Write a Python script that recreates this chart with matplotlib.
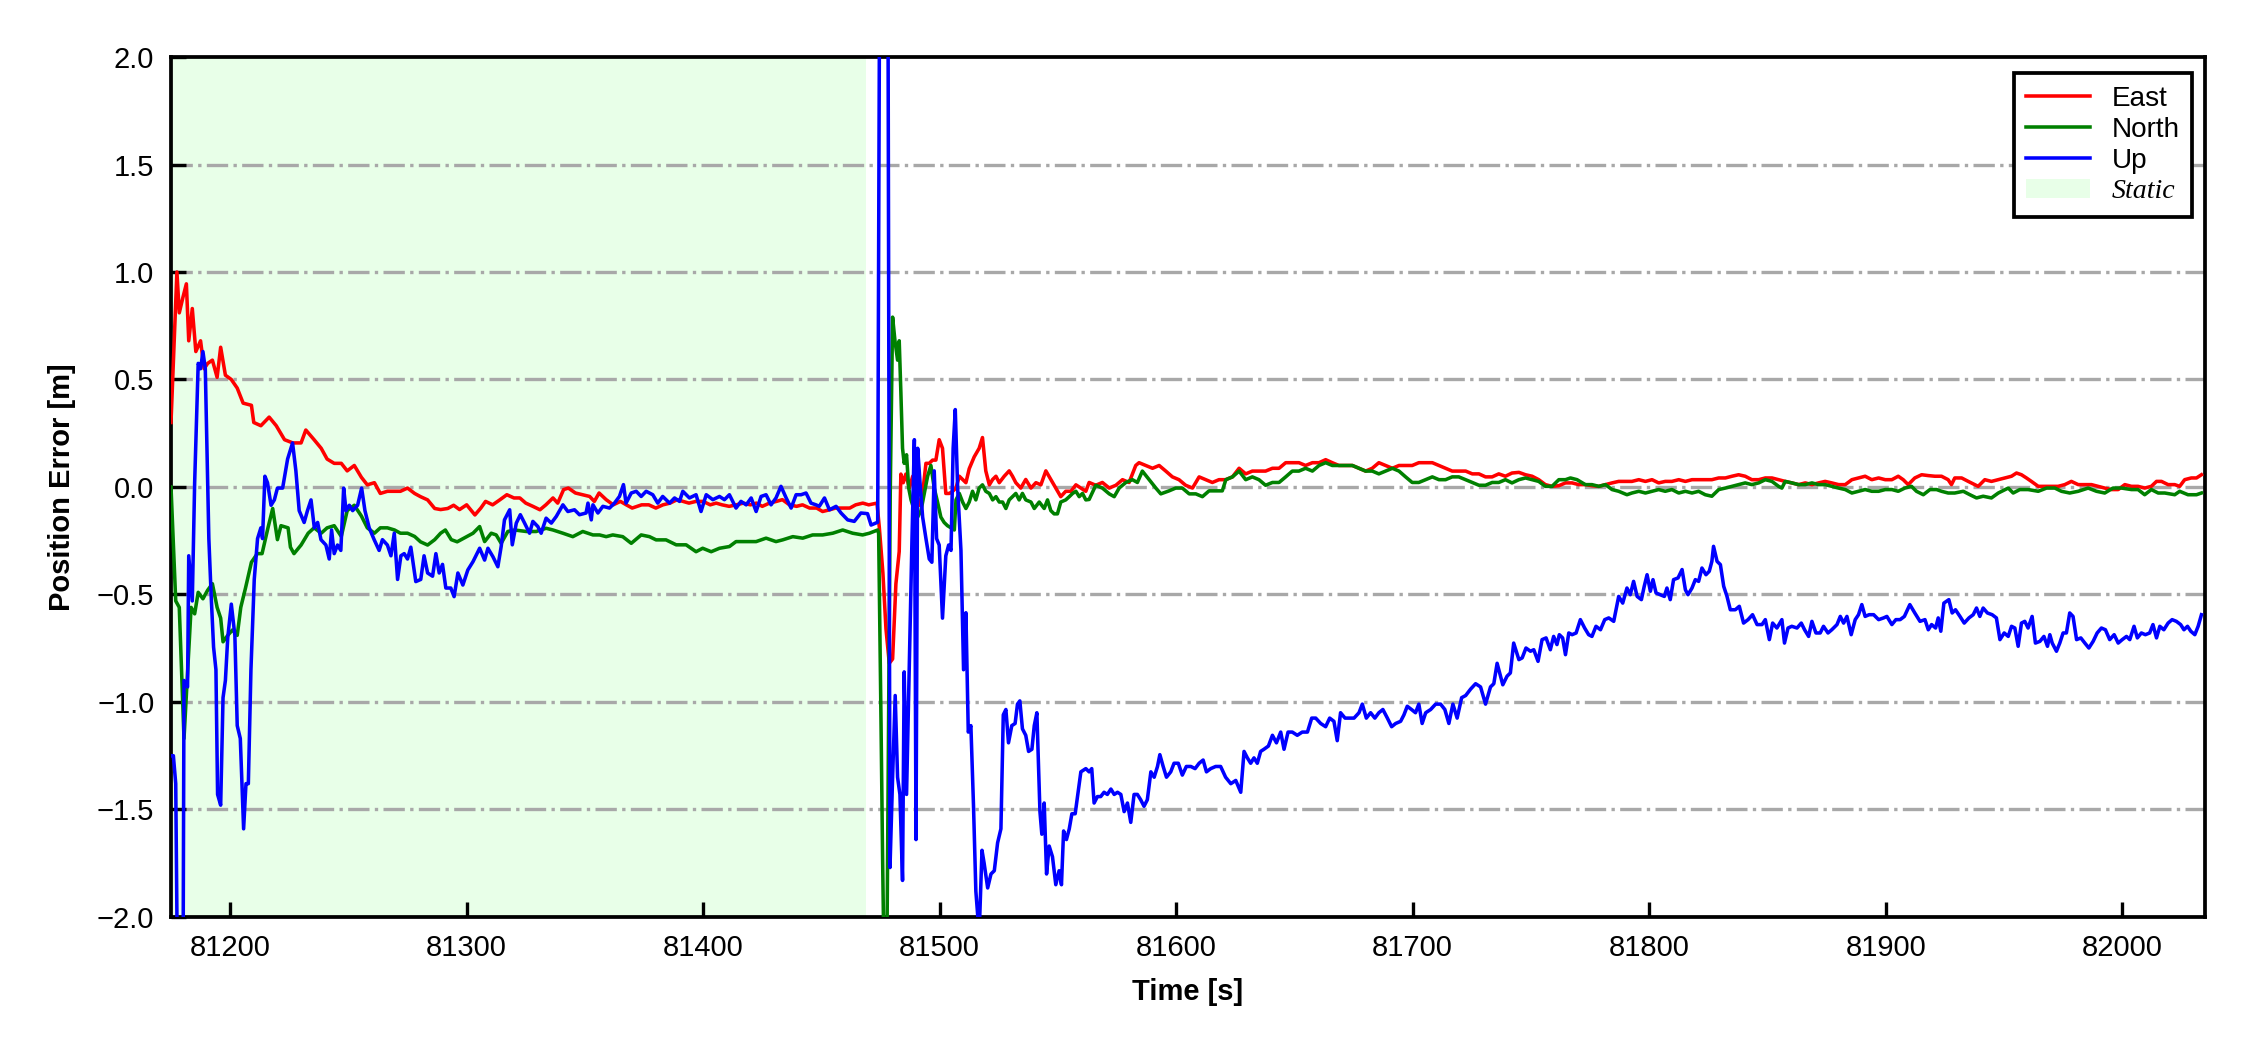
import matplotlib
matplotlib.use("Agg")
import matplotlib.pyplot as plt
from matplotlib.patches import Patch
from matplotlib.lines import Line2D

plt.rcParams['font.family'] = ['Liberation Sans', 'DejaVu Sans']

# ---------------- data ----------------
east_t = [81175, 81177.5, 81178.5, 81180, 81181.5, 81182.5, 81184, 81185.5, 81187.5, 81189, 81190.5, 81192.5,
          81194.5, 81196, 81198, 81200.5, 81203, 81205.5, 81209, 81210, 81213, 81216.5, 81219.5, 81223, 81226.5,
          81230, 81232, 81235.5, 81238.5, 81241, 81244, 81247, 81249.5, 81252.5, 81255.5, 81258, 81261, 81263.5,
          81266.5, 81269.5, 81272, 81275, 81278, 81280.5, 81283.5, 81286.5, 81289, 81292, 81294.5, 81297,
          81300, 81303.5, 81306, 81308, 81311, 81314, 81317, 81320, 81322.5, 81325, 81328, 81331, 81333.5, 81336.5,
          81338.5, 81341, 81343, 81346, 81349, 81352, 81354, 81356, 81359, 81362, 81365, 81367.5, 81370, 81374,
          81377, 81380, 81383, 81386, 81389, 81391.5, 81394, 81397, 81400, 81403, 81405.5, 81408, 81411, 81414,
          81417, 81420, 81422.5, 81425, 81428, 81431, 81433.5, 81436.5, 81439.5, 81442, 81445, 81448, 81450.5,
          81453.5, 81456, 81459, 81462, 81464.5, 81467.5, 81470, 81473.5,
          81474.5, 81476, 81477.3, 81478.7, 81480.1, 81481.5, 81482.9, 81483.6, 81484.6, 81485.7, 81487.2, 81488.6,
          81490, 81491.4, 81492.8, 81494.2, 81495.6, 81497, 81498.4, 81499.8, 81501.2, 81502.6, 81504.1, 81505.5,
          81506.9, 81508.3, 81509.7, 81511.1, 81512.5, 81514.6, 81516.7, 81518.1, 81519.5, 81521, 81522.4, 81523.8,
          81525.2, 81527.3, 81529.4, 81530.8, 81532.2, 81534.3, 81536.4, 81538.6, 81540.7, 81542.8, 81544.9, 81547,
          81549.1, 81551.2, 81553.3, 81555.5, 81557.6, 81559.7, 81561.8,
          81563.2, 81566.0, 81568.8, 81571.7, 81574.5, 81577.3, 81580.1, 81582.9, 81584.3, 81587.1, 81590.0,
          81592.8, 81595.6, 81598.4, 81601.2, 81604.0, 81606.9, 81609.7, 81612.5, 81615.3, 81618.1, 81620.9,
          81623.8, 81626.6, 81629.4, 81632.2, 81635.0, 81637.8, 81640.7, 81643.5, 81646.3, 81649.1, 81651.9,
          81654.7, 81657.6, 81660.4, 81663.2, 81666.0, 81668.8, 81671.6, 81674.5, 81677.3, 81680.1, 81682.9,
          81685.7, 81688.6, 81691.4, 81694.2, 81697.0, 81699.8, 81702.6, 81705.5, 81708.3, 81711.1, 81713.9,
          81716.7, 81719.5, 81722.4, 81725.2, 81728.0, 81730.8, 81733.6, 81736.4,
          81739.2, 81742.0, 81744.9, 81747.7, 81750.5, 81753.3, 81756.1, 81758.9, 81761.8, 81764.6, 81767.4,
          81770.2, 81773.0, 81775.8, 81778.7, 81781.5, 81784.3, 81787.1, 81789.9, 81792.7, 81795.6, 81798.4,
          81801.2, 81804.0, 81806.8, 81809.6, 81812.5, 81815.3, 81818.1, 81820.9, 81823.7, 81826.5, 81829.4,
          81832.2, 81835.0, 81837.8, 81840.6, 81843.4, 81846.3, 81849.1, 81851.9, 81854.7, 81857.5, 81860.3,
          81863.2, 81866.0, 81868.8, 81871.6, 81874.4, 81877.2, 81880.1, 81882.9, 81885.7, 81888.5, 81891.3,
          81894.1, 81897.0, 81899.8, 81902.6,
          81905.3, 81907.4, 81909.5, 81912.3, 81915.2, 81918.0, 81920.8, 81923.6, 81926.4, 81927.8, 81929.2,
          81932.1, 81934.9, 81937.7, 81939.1, 81941.9, 81944.7, 81947.6, 81950.4, 81953.2, 81955.3, 81957.4,
          81959.5, 81961.6, 81964.5, 81967.3, 81970.1, 81972.9, 81975.7, 81978.5, 81981.4, 81984.2, 81987.0,
          81989.8, 81992.6, 81995.4, 81998.3, 82001.1, 82003.9, 82006.7, 82009.5, 82012.3, 82014.5, 82016.6,
          82019.4, 82022.2, 82024.3, 82026.4, 82029.2, 82031.4, 82033.5]
east_v = [0.30, 1.00, 0.81, 0.88, 0.945, 0.68, 0.83, 0.63, 0.68, 0.55, 0.575, 0.59,
          0.51, 0.65, 0.52, 0.50, 0.46, 0.39, 0.38, 0.30, 0.285, 0.325, 0.285, 0.22, 0.205,
          0.205, 0.265, 0.22, 0.18, 0.13, 0.11, 0.11, 0.075, 0.10, 0.045, 0.01, 0.02, -0.03,
          -0.02, -0.02, -0.02, -0.005, -0.03, -0.045, -0.06, -0.10, -0.105, -0.10, -0.085, -0.105,
          -0.083, -0.13, -0.098, -0.067, -0.083, -0.06, -0.036, -0.051, -0.051, -0.075, -0.09, -0.106, -0.083, -0.051,
          -0.075, -0.012, -0.005, -0.028, -0.036, -0.044, -0.067, -0.028, -0.059, -0.083, -0.067, -0.083, -0.098, -0.083,
          -0.083, -0.098, -0.083, -0.075, -0.059, -0.067, -0.075, -0.067, -0.067, -0.083, -0.075, -0.083, -0.09, -0.083,
          -0.075, -0.083, -0.075, -0.09, -0.075, -0.067, -0.059, -0.083, -0.09, -0.083, -0.098, -0.098, -0.114,
          -0.106, -0.098, -0.098, -0.098, -0.083, -0.075, -0.083, -0.075,
          -0.19, -0.40, -0.66, -0.82, -0.80, -0.45, -0.30, 0.06, 0.02, 0.06, -0.005, 0.05,
          -0.03, -0.085, -0.03, 0.11, 0.11, 0.125, 0.125, 0.22, 0.18, -0.03, -0.03, -0.02,
          -0.005, 0.05, 0.035, 0.02, 0.085, 0.14, 0.18, 0.23, 0.075, 0.01, 0.035, 0.05,
          0.02, 0.05, 0.075, 0.05, 0.02, -0.005, 0.035, -0.005, 0.02, 0.01, 0.075, 0.035,
          -0.005, -0.045, -0.02, -0.02, 0.01, -0.005, -0.02,
          0.021, 0.008, 0.021, -0.005, 0.008, 0.034, 0.021, 0.10, 0.113, 0.10, 0.087,
          0.10, 0.074, 0.047, 0.034, 0.008, -0.005, 0.047, 0.034, 0.021, 0.034, 0.034,
          0.047, 0.087, 0.061, 0.074, 0.074, 0.074, 0.087, 0.087, 0.113, 0.113, 0.113,
          0.10, 0.113, 0.113, 0.127, 0.113, 0.10, 0.10, 0.10, 0.087, 0.074, 0.087,
          0.113, 0.10, 0.087, 0.10, 0.10, 0.10, 0.113, 0.113, 0.113, 0.10, 0.087,
          0.074, 0.074, 0.074, 0.061, 0.061, 0.047, 0.047, 0.061,
          0.05, 0.065, 0.068, 0.057, 0.05, 0.034, 0.011, 0.003, 0.006, 0.019, 0.019,
          0.011, 0.011, 0.006, 0.003, 0.011, 0.019, 0.026, 0.026, 0.026, 0.034, 0.026,
          0.034, 0.019, 0.026, 0.026, 0.034, 0.026, 0.034, 0.034, 0.034, 0.034, 0.042,
          0.042, 0.05, 0.057, 0.05, 0.034, 0.034, 0.042, 0.042, 0.034, 0.026, 0.019,
          0.011, 0.019, 0.011, 0.019, 0.026, 0.019, 0.011, 0.011, 0.034, 0.042, 0.05,
          0.034, 0.042, 0.034, 0.034,
          0.05, 0.034, 0.011, 0.042, 0.057, 0.053, 0.05, 0.05, 0.034, 0.011, 0.042,
          0.042, 0.026, 0.011, 0.003, 0.034, 0.026, 0.034, 0.042, 0.05, 0.065, 0.057,
          0.042, 0.026, 0.003, 0.003, 0.003, 0.003, 0.011, 0.026, 0.011, 0.011, 0.011,
          0.003, -0.005, -0.012, -0.012, 0.011, 0.003, 0.003, -0.005, 0.003, 0.026, 0.026,
          0.011, 0.011, 0.003, 0.034, 0.042, 0.042, 0.057]

north_t = [81175, 81177, 81178.5, 81180.5, 81183.5, 81185, 81186.5, 81188.5, 81190.5, 81192.5, 81194.5, 81196,
           81197, 81199, 81201, 81203, 81204.5, 81206.5, 81209, 81211.5, 81213.5, 81216, 81218, 81220, 81221.5,
           81224.5, 81225.5, 81227, 81230, 81233, 81235.5, 81238.5, 81241, 81244, 81247, 81249.5, 81252.5, 81255.5,
           81258, 81261, 81263.5, 81266.5, 81269.5, 81272, 81275, 81278, 81280.5, 81283.5, 81286.5, 81289, 81291,
           81293.5, 81296,
           81300, 81302.7, 81305.5, 81307.6, 81310.4, 81312.5, 81314.6, 81317.4, 81320.3, 81325.2, 81329.4, 81333.6,
           81336.5, 81340.7, 81344.9, 81349.1, 81353.4, 81356.2, 81359, 81361.8, 81366, 81369.6, 81373.8, 81377.3,
           81380.1, 81384.3, 81388.6, 81392.8, 81397, 81399.8, 81403.4, 81406.9, 81411.1, 81413.9, 81418.2, 81422.4,
           81426.6, 81430.8, 81433.6, 81437.9, 81442.1, 81446.3, 81450.5, 81454.8, 81459, 81463.2, 81467.4, 81470.3,
           81473.8,
           81474.2, 81475.2, 81475.9, 81476.6, 81477.6, 81478.4, 81479.1, 81480.1, 81481.1, 81482.2, 81482.9, 81483.6,
           81484.3, 81485, 81486, 81486.9, 81487.9, 81489.3, 81490.7, 81492.1, 81493.5, 81494.9, 81496.3, 81497.7,
           81499.1, 81500.5, 81501.9, 81503.3, 81504.8, 81506.2, 81506.9, 81508.3, 81509.7, 81511.1, 81512.5, 81513.9,
           81515.3, 81516.7, 81518.1, 81519.5, 81521, 81522.4, 81523.8, 81525.2, 81526.6, 81528, 81529.4, 81530.8,
           81532.2, 81533.6, 81535, 81536.4, 81538.6, 81540, 81542.1, 81544.2, 81545.6, 81547, 81548.4, 81549.8,
           81551.2, 81553.3, 81554.8, 81556.2, 81557.6, 81559, 81560.4, 81561.8,
           81563.2, 81566.0, 81568.8, 81571.7, 81573.8, 81575.9, 81578.7, 81581.5, 81583.6, 81585.7, 81588.6,
           81591.4, 81593.5, 81597.0, 81599.8, 81602.6, 81605.5, 81608.3, 81611.1, 81613.9, 81616.7, 81619.5,
           81621.0, 81623.8, 81626.6, 81629.4, 81632.2, 81635.0, 81637.8, 81640.7, 81643.5, 81646.3, 81649.1,
           81651.9, 81654.7, 81657.6, 81660.4, 81663.2, 81666.0, 81668.8, 81671.6, 81674.5, 81677.3, 81680.1,
           81682.9, 81685.7, 81688.6, 81691.4, 81694.2, 81697.0, 81699.8, 81702.6, 81705.5, 81708.3, 81711.1,
           81713.9, 81716.7, 81719.5, 81722.4, 81725.2, 81728.0, 81730.8, 81733.6, 81736.4,
           81739.2, 81742.0, 81744.9, 81747.7, 81750.5, 81753.3, 81756.1, 81758.9, 81761.8, 81764.6, 81766.7,
           81769.5, 81773.0, 81775.8, 81778.7, 81781.5, 81784.3, 81787.1, 81790.6, 81792.7, 81795.6, 81798.4,
           81801.2, 81804.0, 81806.8, 81809.6, 81812.5, 81815.3, 81818.1, 81820.9, 81823.7, 81826.5, 81829.4,
           81832.2, 81835.0, 81837.8, 81840.6, 81843.4, 81846.3, 81849.1, 81851.9, 81854.7, 81856.1, 81857.5,
           81860.3, 81863.2, 81866.0, 81868.8, 81871.6, 81874.4, 81877.2, 81880.1, 81882.9, 81885.7, 81888.5,
           81891.3, 81894.1, 81897.0, 81899.8, 81902.6,
           81905.3, 81908.1, 81910.9, 81913.0, 81915.9, 81918.7, 81921.5, 81923.6, 81926.4, 81929.2, 81932.8,
           81935.6, 81938.4, 81941.2, 81944.7, 81947.6, 81951.8, 81953.9, 81956.7, 81960.2, 81964.5, 81968.0,
           81971.5, 81974.3, 81977.8, 81981.4, 81985.6, 81989.1, 81992.6, 81996.1, 81999.7, 82003.9, 82006.7,
           82009.5, 82012.3, 82015.2, 82018.0, 82022.2, 82024.3, 82027.8, 82031.4, 82033.5]
north_v = [0.0, -0.53, -0.56, -1.17, -0.56, -0.59, -0.49, -0.52, -0.48, -0.45, -0.56, -0.61,
           -0.72, -0.69, -0.665, -0.69, -0.56, -0.47, -0.35, -0.31, -0.31, -0.19, -0.10, -0.245, -0.18,
           -0.19, -0.28, -0.31, -0.27, -0.215, -0.19, -0.215, -0.19, -0.18, -0.23, -0.11, -0.085, -0.135,
           -0.19, -0.215, -0.19, -0.19, -0.20, -0.215, -0.215, -0.23, -0.255, -0.27, -0.245, -0.215, -0.20,
           -0.245, -0.255,
           -0.231, -0.215, -0.184, -0.254, -0.215, -0.223, -0.262, -0.207, -0.2, -0.207, -0.207, -0.192,
           -0.2, -0.215, -0.231, -0.207, -0.223, -0.223, -0.231, -0.223, -0.231, -0.262, -0.223, -0.231,
           -0.246, -0.246, -0.269, -0.269, -0.301, -0.285, -0.301, -0.285, -0.277, -0.254, -0.254, -0.254,
           -0.238, -0.254, -0.246, -0.231, -0.238, -0.223, -0.223, -0.215, -0.2, -0.215, -0.223, -0.215,
           -0.20,
           -0.216, -1.09, -1.75, -2.3, -2.3, -1.09, -0.03, 0.79, 0.68, 0.59, 0.68, 0.44,
           0.18, 0.11, 0.15, -0.005, -0.06, -0.11, -0.14, -0.11, -0.03, 0.05, 0.10, -0.005,
           -0.07, -0.14, -0.165, -0.18, -0.19, -0.20, -0.06, -0.03, -0.07, -0.10, -0.07, -0.02,
           -0.06, -0.005, 0.01, -0.02, -0.03, -0.06, -0.045, -0.07, -0.07, -0.10, -0.06, -0.045,
           -0.03, -0.06, -0.03, -0.06, -0.07, -0.10, -0.07, -0.10, -0.06, -0.11, -0.125, -0.125,
           -0.07, -0.06, -0.045, -0.03, -0.02, -0.045, -0.03, -0.06,
           -0.058, 0.008, -0.005, -0.032, -0.045, -0.005, 0.021, 0.034, 0.021, 0.074, 0.034,
           -0.005, -0.032, -0.018, -0.005, -0.005, -0.032, -0.032, -0.045, -0.018, -0.018, -0.018,
           0.034, 0.047, 0.074, 0.034, 0.047, 0.034, 0.008, 0.021, 0.021, 0.047, 0.074,
           0.074, 0.087, 0.074, 0.10, 0.113, 0.10, 0.10, 0.10, 0.10, 0.087, 0.074,
           0.074, 0.061, 0.074, 0.087, 0.074, 0.047, 0.021, 0.021, 0.034, 0.047, 0.034,
           0.034, 0.047, 0.047, 0.034, 0.021, 0.008, 0.008, 0.021, 0.021,
           0.034, 0.019, 0.034, 0.042, 0.034, 0.026, 0.003, 0.003, 0.034, 0.034, 0.042,
           0.034, 0.011, 0.011, 0.003, 0.011, -0.012, -0.02, -0.036, -0.028, -0.02, -0.028,
           -0.02, -0.012, -0.02, -0.012, -0.028, -0.02, -0.028, -0.02, -0.036, -0.043, -0.012,
           -0.005, 0.003, 0.011, 0.019, 0.011, 0.019, 0.034, 0.026, 0.003, -0.005, 0.026,
           0.019, 0.011, 0.011, 0.019, 0.011, 0.011, 0.003, -0.005, -0.012, -0.028, -0.02,
           -0.012, -0.02, -0.02, -0.012, -0.012,
           -0.02, -0.005, 0.003, -0.02, -0.036, -0.012, -0.012, -0.02, -0.028, -0.028, -0.02,
           -0.036, -0.051, -0.043, -0.051, -0.028, -0.005, -0.028, -0.012, -0.012, -0.02, -0.005,
           -0.005, -0.02, -0.028, -0.02, -0.005, -0.02, -0.028, -0.005, -0.005, -0.012, -0.012,
           -0.036, -0.012, -0.028, -0.028, -0.036, -0.02, -0.036, -0.036, -0.028]

up_t = [81175, 81176, 81177, 81178, 81180, 81180.5, 81182, 81182.5, 81184, 81185, 81186.5, 81187.5, 81188.5,
        81189.5, 81191, 81192, 81193, 81194, 81194.7, 81196, 81197, 81198, 81199, 81200.5, 81202, 81203,
        81204.3, 81205.7, 81206.7, 81207.7, 81208.8, 81210.2, 81211.6, 81213, 81213.7, 81214.7, 81215.8,
        81217.3, 81218.7, 81220, 81222.2, 81224.3, 81226.4, 81227.8, 81229.2, 81231.3, 81232.7, 81234.2,
        81235.6, 81237, 81238.4, 81240.5, 81241.9, 81242.9, 81244, 81245.4, 81246.8, 81248, 81249, 81250.4,
        81251.8, 81253.9, 81255.6, 81257, 81258.8, 81260.9, 81263, 81264.4, 81266.5, 81268, 81269.4, 81270.8,
        81272.2, 81273.6, 81275, 81276.4, 81278.5, 81280.6, 81282, 81283.5, 81285.6, 81287, 81288.4, 81289.8,
        81291.2, 81293.3, 81294.7,
        81296.3, 81298.4, 81300.5, 81302.7, 81305.5, 81307.6, 81309, 81311.1, 81313.2, 81314.6, 81316, 81318.2,
        81319.3, 81321, 81322.7, 81324.5, 81326.6, 81328, 81330.1, 81331.5, 81333.6, 81335.8, 81337.9, 81340.7,
        81342.8, 81345.6, 81347.7, 81350.5, 81351.3, 81352.7, 81353.4, 81355.5, 81357.6, 81360.4, 81362.5,
        81364.6, 81366.3, 81367.4, 81369.6, 81371.7, 81373.8, 81375.9, 81378.7, 81380.8, 81382.9, 81385.8,
        81387.9, 81390, 81391.4, 81394.2, 81397, 81399.1, 81401.3, 81404.1, 81406.9, 81409, 81411.1, 81413.9,
        81416, 81418.2, 81420.3, 81422.4, 81424.5, 81426.6, 81428.7, 81430.8, 81432.9, 81435.1, 81437.2,
        81439.3, 81441.4, 81443.5, 81445.6, 81447.7, 81449.1, 81451.3, 81453.4, 81456.2, 81458.3, 81461.1,
        81463.9, 81466.7, 81469.5, 81471, 81473.8,
        81474.8, 81475.6, 81477, 81478, 81479, 81480.1, 81481.2, 81482.2, 81483.2, 81484.3, 81485, 81486,
        81487.2, 81488.3, 81489.3, 81490, 81490.7, 81491.7, 81492.8, 81494.2, 81495.6, 81496.7, 81497.7,
        81498.7, 81499.8, 81501.2, 81502.6, 81503.8, 81504.8, 81505.7, 81506.6, 81507.6, 81509, 81510.1,
        81511.1, 81512.1, 81513.2, 81514.3, 81515.3, 81516.7, 81517.9, 81518.8, 81520.3, 81521.7, 81523.1,
        81524.5, 81525.9, 81526.9, 81528, 81529.1, 81530.5, 81531.9, 81532.9, 81533.9, 81535, 81536.4,
        81537.6, 81539, 81540, 81541.1, 81542.4, 81543.2, 81544.2, 81545.2, 81546.3, 81547.7, 81549.1,
        81550.5, 81551.5, 81552.4, 81553.6, 81554.8, 81555.9, 81557.3, 81558.7, 81559.7, 81561.8,
        81563.2, 81564.3, 81565.3, 81566.7, 81568.1, 81569.5, 81570.9, 81572.4, 81573.8, 81575.2, 81576.6,
        81578, 81579.4, 81580.8, 81582.2, 81583.6, 81585, 81586.4, 81587.8, 81589.3, 81590.7, 81592.1,
        81593.1, 81594.5, 81595.9, 81597.7, 81599.1, 81600.9, 81602.6, 81604.3, 81606.2, 81608, 81609.7,
        81611.4, 81612.8, 81614.6, 81616.7, 81618.8, 81620.9, 81623.1, 81625.2, 81627.3, 81628.7, 81630.1,
        81631.5, 81632.9, 81634.3, 81635.7, 81637.1, 81639, 81640.7, 81642.4, 81644.2, 81645.6, 81647.3,
        81649.1, 81651.2, 81653.3, 81655.5, 81657.3, 81659, 81661.1, 81663.2, 81664.9, 81666.7, 81668.1,
        81669.5, 81671.4, 81673.1, 81675.2, 81677.3, 81678.7, 81680.4, 81682.2, 81684, 81685.7, 81687.4,
        81689.3, 81691.1, 81692.8, 81694.9, 81696.3, 81697.7, 81699.5, 81701.2, 81702.6, 81704, 81705.5,
        81707.6, 81709.7, 81711.8, 81713.6, 81715.3, 81717, 81718.8, 81720.7, 81722.4, 81724.5, 81726.6,
        81728.7, 81730.8, 81732.9, 81734.3, 81735.7, 81738.1,
        81739.9, 81741.3, 81742.7, 81744.9, 81746.3, 81747.9, 81749.8, 81751.2, 81753, 81754.7, 81756.4,
        81758.2, 81759.6, 81761, 81762, 81763.4, 81764.6, 81766, 81767.4, 81769.1, 81770.9, 81772.7,
        81774.4, 81775.8, 81777.5, 81779.4, 81781.2, 81782.9, 81785, 81787.1, 81788.8, 81790.6, 81792,
        81793.4, 81794.9, 81796.7, 81797.9, 81799.1, 81800.5, 81801.6, 81802.9, 81804.7, 81806.4, 81807.5,
        81808.9, 81810.3, 81812.2, 81813.9, 81815.3, 81816.4, 81818.1, 81819.5, 81820.9, 81822.3, 81824,
        81825.4, 81826.5, 81827.2, 81828.7, 81830.1, 81831.5, 81832.9, 81834.3, 81836.4, 81838.1, 81839.9,
        81841.8, 81843.7, 81845.6, 81847.7, 81849.1, 81850.8, 81852.2, 81854, 81856.1, 81857.2, 81858.7,
        81860.3, 81862.5, 81864.3, 81865.7, 81867.4, 81868.8, 81870.5, 81872.3, 81873.7, 81875.6, 81877.2,
        81879.4, 81880.8, 81882.2, 81883.6, 81885.4, 81887.1, 81888.5, 81889.9, 81891.3, 81893, 81894.9,
        81897, 81899.1, 81900.5, 81902.6, 81904.3, 81906.1, 81907.9,
        81910.2, 81912.3, 81914.5, 81916.6, 81918, 81919.4, 81921.1, 81922.2, 81923.3, 81924.6, 81926.7,
        81928.1, 81929.5, 81931.4, 81933.2, 81935.2, 81937, 81938.4, 81939.8, 81941.2, 81943, 81945,
        81946.8, 81948.3, 81950.1, 81951.8, 81953.2, 81954.6, 81956, 81957.4, 81958.8, 81960.2, 81961.9,
        81963.3, 81965.2, 81966.9, 81968.4, 81969.4, 81970.4, 81972.2, 81973.6, 81975, 81976.4, 81977.8,
        81979.2, 81980.7, 81982.5, 81984.2, 81985.9, 81987.7, 81989.4, 81991.2, 81992.9, 81994.7, 81996.6,
        81998.3, 82000, 82001.8, 82003.2, 82005, 82006.4, 82008.1, 82009.8, 82011.6, 82013, 82014.5,
        82015.9, 82017.6, 82019.4, 82021.1, 82022.9, 82024.7, 82026.1, 82027.6, 82029, 82030.7, 82032.1,
        82033.5]
up_v = [-1.25, -1.25, -1.38, -2.6, -2.6, -0.90, -0.93, -0.32, -0.53, 0.02, 0.575, 0.55, 0.63,
        0.55, -0.24, -0.51, -0.745, -0.85, -1.43, -1.48, -0.98, -0.90, -0.70, -0.545, -0.69, -1.11,
        -1.17, -1.59, -1.38, -1.38, -0.85, -0.43, -0.24, -0.19, -0.24, 0.05, 0.02,
        -0.085, -0.06, -0.005, -0.005, 0.13, 0.205, 0.075, -0.11, -0.165, -0.11, -0.06,
        -0.19, -0.165, -0.245, -0.27, -0.335, -0.20, -0.31, -0.27, -0.295, -0.005, -0.11, -0.085,
        -0.11, -0.085, -0.005, -0.11, -0.19, -0.245, -0.295, -0.245, -0.27, -0.32, -0.215, -0.43,
        -0.32, -0.31, -0.335, -0.28, -0.44, -0.43, -0.32, -0.40, -0.415, -0.31, -0.40, -0.36,
        -0.47, -0.47, -0.51,
        -0.40, -0.456, -0.386, -0.347, -0.285, -0.34, -0.285, -0.324, -0.371, -0.277, -0.153, -0.106,
        -0.269, -0.168, -0.129, -0.168, -0.215, -0.16, -0.184, -0.215, -0.145, -0.168, -0.137, -0.083,
        -0.114, -0.106, -0.129, -0.121, -0.075, -0.153, -0.083, -0.121, -0.09, -0.098, -0.075,
        -0.044, 0.011, -0.075, -0.028, -0.02, -0.044, -0.02, -0.036, -0.075, -0.044, -0.075,
        -0.051, -0.067, -0.02, -0.051, -0.036, -0.114, -0.036, -0.059, -0.044, -0.059, -0.036, -0.098,
        -0.067, -0.083, -0.051, -0.114, -0.044, -0.036, -0.083, -0.051, 0.003, -0.051, -0.098,
        -0.036, -0.036, -0.028, -0.075, -0.083, -0.09, -0.051, -0.106, -0.09, -0.121, -0.153,
        -0.16, -0.121, -0.124, -0.177, -0.164,
        3.0, 3.5, 3.5, 3.0, -1.77, -1.35, -0.97, -1.35, -1.43, -1.83, -0.86, -1.43,
        -0.82, -0.24, 0.22, -1.64, 0.18, 0.02, -0.14, -0.24, -0.335, -0.35, 0.075,
        -0.24, -0.27, -0.61, -0.32, -0.27, -0.295, 0.18, 0.36, -0.005, -0.295, -0.85,
        -0.585, -1.14, -1.11, -1.48, -1.88, -2.08, -1.69, -1.75, -1.865, -1.80, -1.785,
        -1.655, -1.59, -1.06, -1.035, -1.19, -1.11, -1.10, -1.01, -0.995, -1.125, -1.155,
        -1.23, -1.22, -1.11, -1.05, -1.51, -1.615, -1.47, -1.80, -1.67, -1.72, -1.85,
        -1.785, -1.85, -1.60, -1.64, -1.59, -1.52, -1.52, -1.405, -1.325, -1.31,
        -1.325, -1.31, -1.47, -1.44, -1.44, -1.42, -1.43, -1.405, -1.43, -1.42, -1.43,
        -1.51, -1.47, -1.56, -1.43, -1.43, -1.455, -1.485, -1.455, -1.325, -1.35, -1.30,
        -1.245, -1.30, -1.35, -1.325, -1.285, -1.285, -1.34, -1.30, -1.30, -1.31, -1.285,
        -1.27, -1.325, -1.31, -1.30, -1.30, -1.35, -1.38, -1.365, -1.42, -1.23, -1.26,
        -1.285, -1.26, -1.285, -1.23, -1.22, -1.205, -1.155, -1.19, -1.14, -1.22, -1.14,
        -1.14, -1.155, -1.14, -1.14, -1.075, -1.075, -1.10, -1.115, -1.075, -1.09, -1.18,
        -1.05, -1.075, -1.075, -1.075, -1.05, -1.01, -1.075, -1.05, -1.075, -1.05, -1.035,
        -1.075, -1.115, -1.10, -1.09, -1.06, -1.02, -1.035, -1.05, -1.01, -1.10, -1.05,
        -1.035, -1.01, -1.01, -1.035, -1.10, -1.01, -1.075, -0.98, -0.97, -0.94, -0.915,
        -0.93, -1.01, -0.93, -0.915, -0.82, -0.92,
        -0.88, -0.865, -0.726, -0.803, -0.795, -0.749, -0.764, -0.757, -0.811, -0.71, -0.702,
        -0.757, -0.695, -0.733, -0.687, -0.702, -0.78, -0.679, -0.687, -0.679, -0.617, -0.656,
        -0.687, -0.695, -0.648, -0.664, -0.617, -0.609, -0.625, -0.509, -0.54, -0.47, -0.501,
        -0.439, -0.509, -0.524, -0.462, -0.408, -0.485, -0.431, -0.493, -0.501, -0.509, -0.47,
        -0.524, -0.431, -0.423, -0.384, -0.478, -0.501, -0.47, -0.431, -0.439, -0.377, -0.408,
        -0.392, -0.346, -0.276, -0.346, -0.361, -0.462, -0.509, -0.571, -0.571, -0.555, -0.633,
        -0.617, -0.594, -0.64, -0.64, -0.617, -0.71, -0.633, -0.656, -0.617, -0.726, -0.656,
        -0.648, -0.656, -0.633, -0.664, -0.695, -0.625, -0.679, -0.679, -0.648, -0.679, -0.664,
        -0.64, -0.602, -0.633, -0.602, -0.687, -0.617, -0.594, -0.547, -0.602, -0.594, -0.594,
        -0.617, -0.609, -0.602, -0.64, -0.617, -0.617, -0.602,
        -0.547, -0.586, -0.625, -0.617, -0.664, -0.64, -0.656, -0.609, -0.671, -0.54, -0.524,
        -0.586, -0.571, -0.602, -0.633, -0.609, -0.594, -0.563, -0.602, -0.563, -0.586, -0.594,
        -0.609, -0.71, -0.679, -0.695, -0.648, -0.656, -0.741, -0.633, -0.625, -0.656, -0.602,
        -0.726, -0.718, -0.695, -0.741, -0.687, -0.726, -0.764, -0.726, -0.679, -0.679, -0.586,
        -0.602, -0.71, -0.702, -0.726, -0.749, -0.718, -0.679, -0.656, -0.664, -0.71, -0.687,
        -0.726, -0.71, -0.695, -0.71, -0.648, -0.702, -0.679, -0.687, -0.679, -0.64, -0.702,
        -0.648, -0.664, -0.633, -0.617, -0.625, -0.64, -0.664, -0.648, -0.671, -0.687, -0.648,
        -0.594]

static_start = 81175
static_end = 81469
x_limits = (81175, 82035)
y_limits = (-2.0, 2.0)
x_ticks = [81200, 81300, 81400, 81500, 81600, 81700, 81800, 81900, 82000]
y_ticks = [-2.0, -1.5, -1.0, -0.5, 0.0, 0.5, 1.0, 1.5, 2.0]

# ---------------- figure ----------------
fig = plt.figure(figsize=(7.5, 3.5), dpi=300)
ax = fig.add_axes([0.076, 0.1267, 0.904, 0.819])

static_color = (0.91, 1.0, 0.91)
ax.axvspan(static_start, static_end, facecolor=static_color, edgecolor='none', zorder=0)

for yv in y_ticks[1:-1]:
    ax.axhline(yv, color='#a8a8a8', lw=0.8, ls='-.', zorder=1)

lw = 0.85
ax.plot(east_t, east_v, color='red', lw=lw, zorder=3)
ax.plot(north_t, north_v, color='green', lw=lw, zorder=3)
ax.plot(up_t, up_v, color='blue', lw=lw, zorder=4)

ax.set_xlim(*x_limits)
ax.set_ylim(*y_limits)
ax.set_xticks(x_ticks)
ax.set_yticks(y_ticks)
ax.set_yticklabels([f"{v:.1f}".replace('-', '\u2212') for v in y_ticks])
ax.tick_params(direction='in', length=3.5, width=0.8, labelsize=7, pad=4,
               top=False, right=False)
for s in ax.spines.values():
    s.set_linewidth(0.9)

ax.set_xlabel('Time [s]', fontsize=7, fontweight='bold', labelpad=4)
ax.set_ylabel('Position Error [m]', fontsize=7, fontweight='bold', labelpad=5)

handles = [Line2D([], [], color='red', lw=lw),
           Line2D([], [], color='green', lw=lw),
           Line2D([], [], color='blue', lw=lw),
           Patch(facecolor=static_color, edgecolor='none')]
labels = ['East', 'North', 'Up', 'Static']
leg = ax.legend(handles, labels, loc='upper right', bbox_to_anchor=(0.9936, 0.9814),
                borderaxespad=0, fontsize=6.7, frameon=True, fancybox=False,
                framealpha=1, edgecolor='black', handlelength=2.3, labelspacing=0.18,
                borderpad=0.45, handletextpad=0.75)
leg.get_frame().set_linewidth(0.9)
t_static = leg.get_texts()[3]
t_static.set_fontfamily(['Liberation Serif', 'DejaVu Serif'])
t_static.set_fontstyle('italic')

fig.savefig('out.png', dpi=300)
